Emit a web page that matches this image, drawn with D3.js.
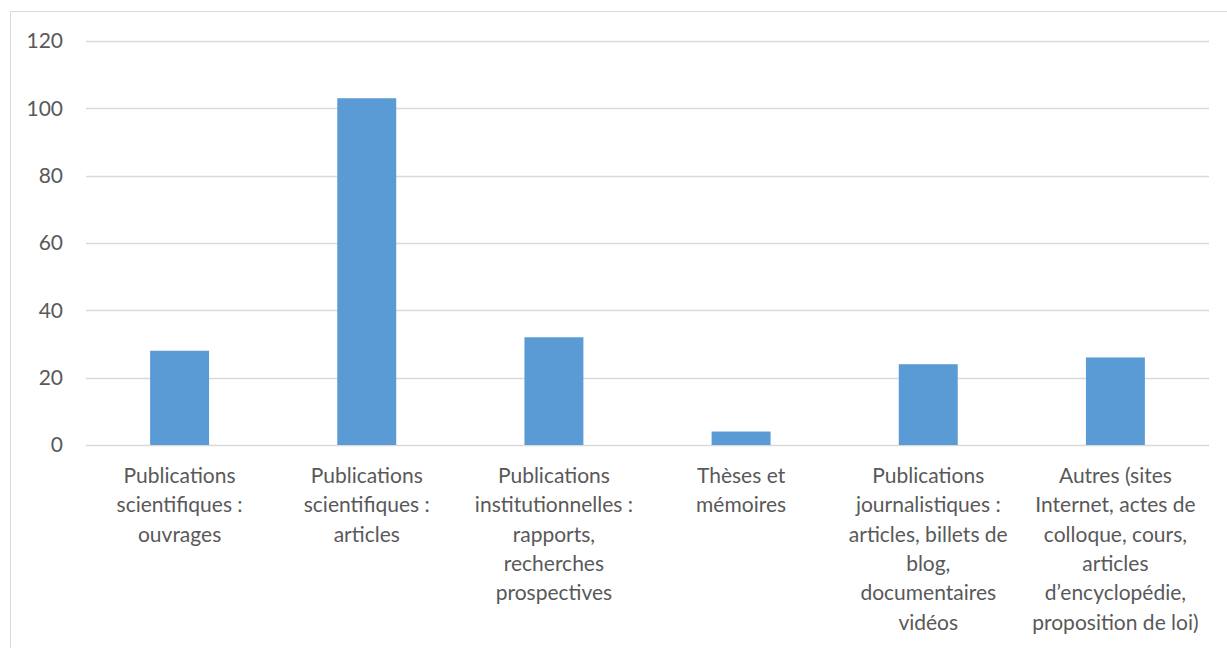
<!DOCTYPE html>
<html><head><meta charset="utf-8">
<script src="https://cdn.jsdelivr.net/npm/d3@7"></script>
<style>body{margin:0;background:#fff}svg{display:block}</style>
</head><body>
<svg id="c" width="1227" height="648"></svg>
<script>
const categories = [
  "Publications\nscientifiques :\nouvrages",
  "Publications\nscientifiques :\narticles",
  "Publications\ninstitutionnelles :\nrapports,\nrecherches\nprospectives",
  "Thèses et\nmémoires",
  "Publications\njournalistiques :\narticles, billets de\nblog,\ndocumentaires\nvidéos",
  "Autres (sites\nInternet, actes de\ncolloque, cours,\narticles\nd’encyclopédie,\nproposition de loi)"
];
const values = [28, 103, 32, 4, 24, 26];
const yTicks = [0, 20, 40, 60, 80, 100, 120];

const svg = d3.select("#c");
const font = "Lato, 'Open Sans', sans-serif";
const textColor = "#595959";

// chart border
svg.append("rect").attr("x", 10.5).attr("y", 11.5).attr("width", 1240).attr("height", 700)
  .attr("fill", "none").attr("stroke", "#d9d9d9").attr("stroke-width", 1);

const x = d3.scaleBand().domain(d3.range(categories.length)).range([86, 1209])
  .paddingInner(0.685).paddingOuter(0.3425);
const y = d3.scaleLinear().domain([0, 120]).range([445, 41]);

// gridlines
svg.append("g").selectAll("line").data(yTicks).join("line")
  .attr("x1", 86).attr("x2", 1209)
  .attr("y1", d => Math.round(y(d)) + 0.5).attr("y2", d => Math.round(y(d)) + 0.5)
  .attr("stroke", "#d9d9d9").attr("stroke-width", 1.3);

// y labels
svg.append("g").selectAll("text").data(yTicks).join("text")
  .attr("x", 63).attr("y", d => y(d)).attr("dy", "0.35em")
  .attr("text-anchor", "end").attr("fill", textColor)
  .style("font-family", font).style("font-size", "21px")
  .text(d => d);

// bars
svg.append("g").selectAll("rect").data(values).join("rect")
  .attr("x", (d, i) => x(i)).attr("width", x.bandwidth())
  .attr("y", d => y(d)).attr("height", d => y(0) - y(d))
  .attr("fill", "#5b9bd5");

// category labels
const lab = svg.append("g").selectAll("text").data(categories).join("text")
  .attr("text-anchor", "middle").attr("fill", textColor)
  .style("font-family", font).style("font-size", "21px")
  .attr("transform", (d, i) => `translate(${x(i) + x.bandwidth() / 2},483)`);
lab.selectAll("tspan").data(d => d.split("\n")).join("tspan")
  .attr("x", 0).attr("y", (d, j) => j * 29.3).text(d => d);
</script>
</body></html>
